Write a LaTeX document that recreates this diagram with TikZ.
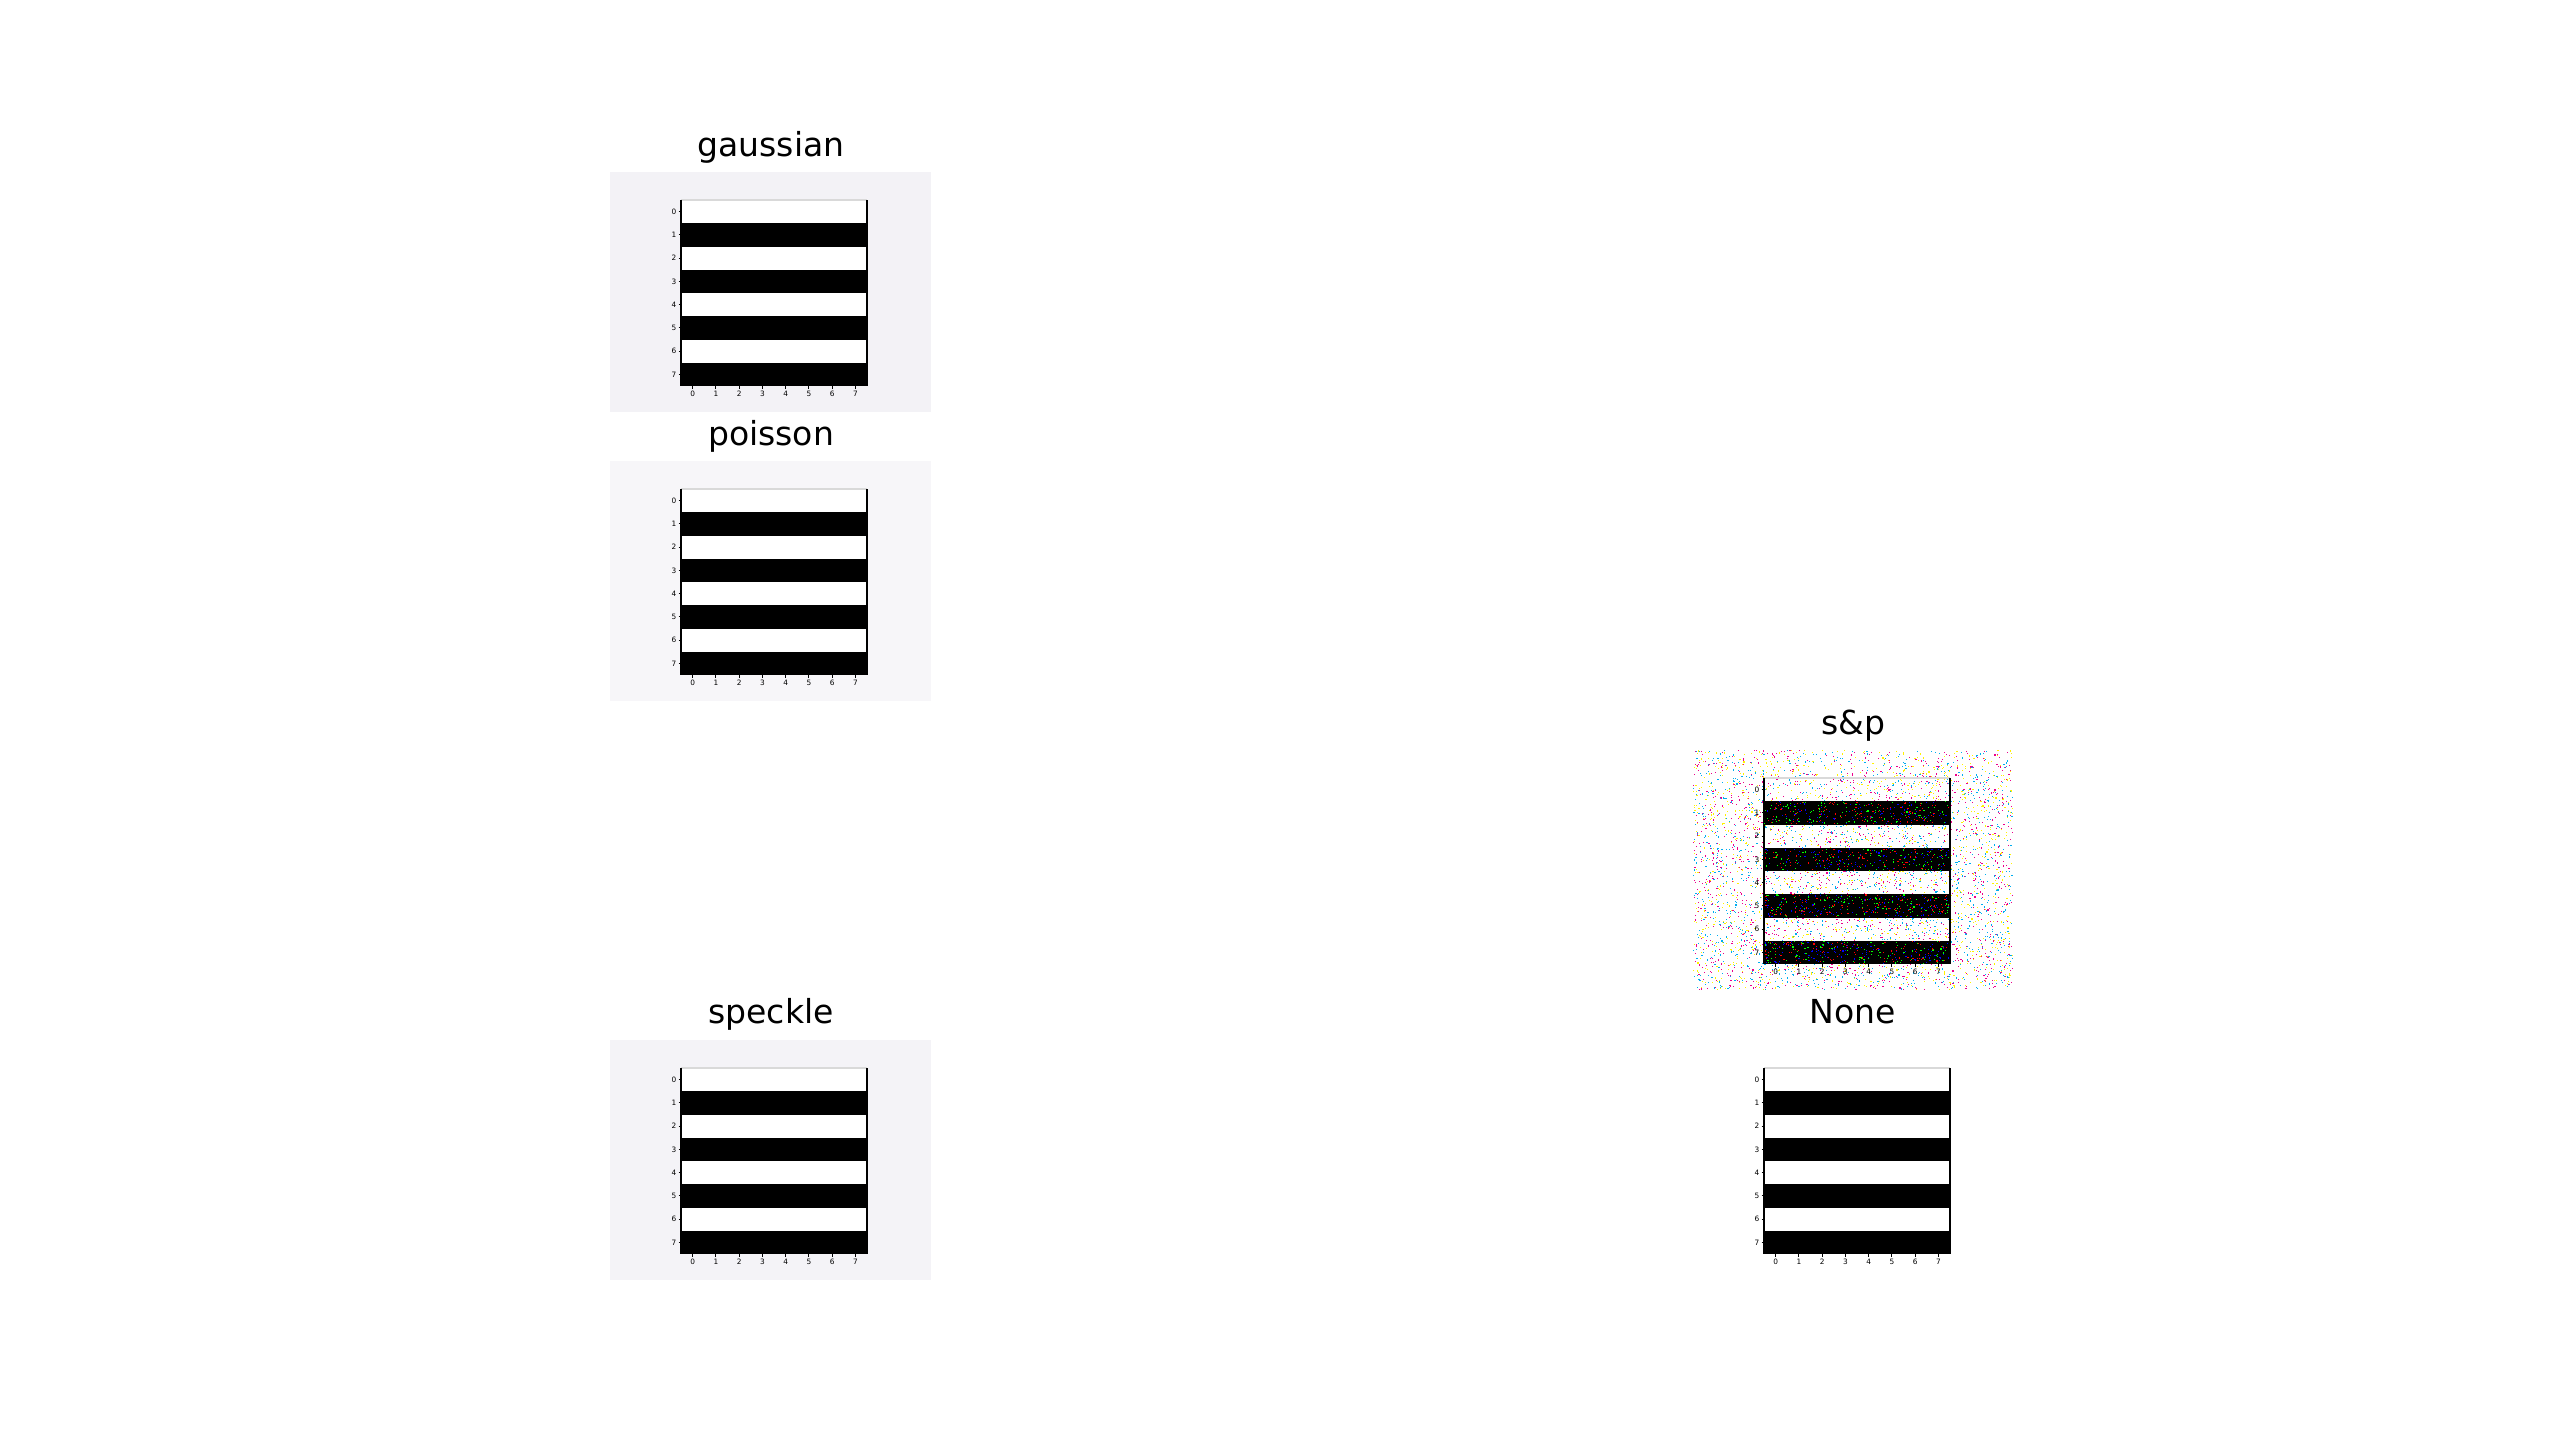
\documentclass[tikz,border=0pt]{standalone}
\usepackage{fontspec}
\setmainfont{DejaVu Sans}
\definecolor{gaussbg}{RGB}{243,242,246}
\definecolor{poissbg}{RGB}{247,246,249}
\definecolor{specklebg}{RGB}{244,243,247}
\pgfmathdeclarerandomlist{saltcol}{{cyan}{magenta}{yellow}}
\pgfmathdeclarerandomlist{peppercol}{{red}{green}{blue}}
\tikzset{
  plottitle/.style={font=\fontsize{9.4}{11}\selectfont, anchor=base, inner sep=0pt},
  ticklabel/.style={font=\fontsize{2.1}{2.5}\selectfont, inner sep=0pt},
  pics/stripeplot/.style={code={
    \foreach \r in {1,3,5,7}
      \fill[black] (0,{\r*23.25}) rectangle (186,{(\r+1)*23.25});
    \draw[gray!30, line width=0.3pt] (0,0) -- (186,0);
    \draw[line width=0.3pt] (0,0) -- (0,186) (186,0) -- (186,186);
    \foreach \k in {0,...,7}{
      \draw[line width=0.25pt] (-2.5,{\k*23.25+11.6}) -- (0,{\k*23.25+11.6});
      \node[ticklabel, anchor=east] (yl\k) at (-4,{\k*23.25+11.6}) {\k};
      \draw[line width=0.25pt] ({\k*23.25+11.6},186) -- ({\k*23.25+11.6},188.5);
      \node[ticklabel, anchor=north] (xl\k) at ({\k*23.25+11.6},190) {\k};
    }
  }}
}
\begin{document}
\begin{tikzpicture}[x=0.1mm, y=-0.1mm]
\fill[white] (0,0) rectangle (2560,1438);
\useasboundingbox (0,0) rectangle (2560,1438);
%%%% Add titles over each panel
    \node[plottitle] (gausstitle) at (771,156) {gaussian};
    \node[plottitle] (poissontitle) at (771,445) {poisson};
    \node[plottitle] (sptitle) at (1853,734) {s\&p};
    \node[plottitle] (speckletitle) at (771,1023) {speckle};
    \node[plottitle] (nonetitle) at (1853,1023) {None};
%%%% Add noisy panels with striped axes
    \fill[gaussbg] (610,172) rectangle ++(321,240);
    \fill[white] (681,200) rectangle ++(186,186);
    \pic (gaussplot) at (681,200) {stripeplot};
    \fill[poissbg] (610,461) rectangle ++(321,240);
    \fill[white] (681,489) rectangle ++(186,186);
    \pic (poissonplot) at (681,489) {stripeplot};
    \fill[specklebg] (610,1040) rectangle ++(321,240);
    \fill[white] (681,1068) rectangle ++(186,186);
    \pic (speckleplot) at (681,1068) {stripeplot};
    \pic (noneplot) at (1764,1068) {stripeplot};
%%%% Add salt and pepper dots
    \pgfmathsetseed{42}
    \foreach \i in {1,...,5000}{
      \pgfmathsetmacro\px{1693+319*rnd}
      \pgfmathsetmacro\py{750+239*rnd}
      \pgfmathrandomitem\dotcol{saltcol}
      \fill[\dotcol] (\px,\py) rectangle ++(1.1,1.1);
    }
    \pic (spplot) at (1764,778) {stripeplot};
    \foreach \i in {1,...,1300}{
      \pgfmathsetmacro\px{1764+184*rnd}
      \pgfmathsetmacro\py{778+23.25*(2*floor(3.999*rnd)+1)+22*rnd}
      \pgfmathrandomitem\dotcol{peppercol}
      \fill[\dotcol] (\px,\py) rectangle ++(1.1,1.1);
    }
\end{tikzpicture}
\end{document}
